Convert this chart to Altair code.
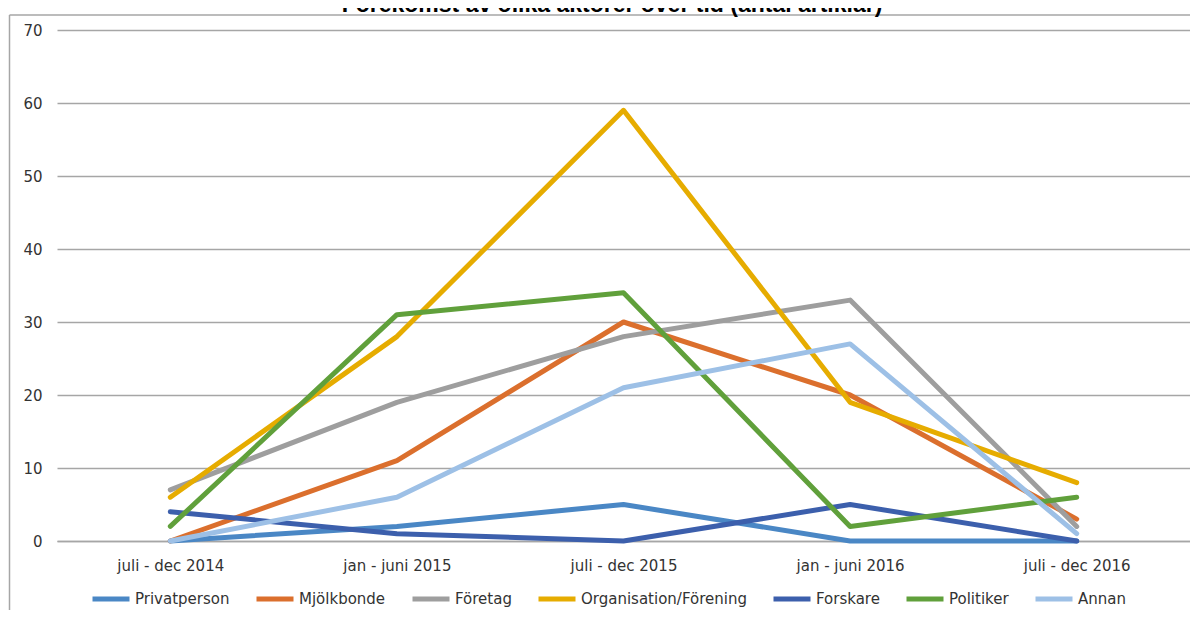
import altair as alt
import pandas as pd

periods = ["juli - dec 2014", "jan - juni 2015", "juli - dec 2015", "jan - juni 2016", "juli - dec 2016"]
series = ["Privatperson", "Mjölkbonde", "Företag", "Organisation/Förening", "Forskare", "Politiker", "Annan"]
privatperson = [0, 2, 5, 0, 0]
mjolkbonde = [0, 11, 30, 20, 3]
foretag = [7, 19, 28, 33, 2]
organisation = [6, 28, 59, 19, 8]
forskare = [4, 1, 0, 5, 0]
politiker = [2, 31, 34, 2, 6]
annan = [0, 6, 21, 27, 1]
colors = ["#4A87C5", "#DB6F2D", "#9E9E9E", "#E6AC00", "#3C5FAC", "#60A03B", "#9DC0E6"]
title_text = "Förekomst av olika aktörer över tid (antal artiklar)"

values = [privatperson, mjolkbonde, foretag, organisation, forskare, politiker, annan]
rows = []
for s, vals in zip(series, values):
    for p, v in zip(periods, vals):
        rows.append({"Period": p, "Serie": s, "Antal": v, "order": series.index(s)})
df = pd.DataFrame(rows)

W, H = 1133, 511
FONT = "DejaVu Sans"

lines = alt.Chart(df).mark_line(strokeWidth=5, strokeCap="round", strokeJoin="round").encode(
    x=alt.X("Period:N", sort=periods, scale=alt.Scale(type="point", padding=0.5),
            axis=alt.Axis(title=None, labelAngle=0, ticks=False, tickSize=0, grid=False,
                          domainColor="#A6A6A6", domainWidth=1.5, labelPadding=17,
                          labelFont=FONT, labelFontSize=15, labelColor="#333333")),
    y=alt.Y("Antal:Q", scale=alt.Scale(domain=[0, 70], nice=False),
            axis=alt.Axis(title=None, values=list(range(0, 71, 10)), ticks=False, tickSize=0,
                          domain=False, gridColor="#A6A6A6", gridWidth=1.5, labelPadding=15,
                          labelFont=FONT, labelFontSize=15, labelColor="#333333")),
    color=alt.Color("Serie:N", sort=series, scale=alt.Scale(domain=series, range=colors),
                    legend=alt.Legend(title=None, orient="none", direction="horizontal",
                                      legendX=33, legendY=548, symbolType="stroke",
                                      symbolStrokeWidth=5, symbolSize=1369, labelOffset=3,
                                      columnPadding=16, padding=0, labelLimit=400,
                                      labelFont=FONT, labelFontSize=15, labelColor="#333333")),
    order=alt.Order("order:Q"),
)

one = pd.DataFrame({"a": [0]})
frame_left = alt.Chart(one).mark_rule(color="#A6A6A6", strokeWidth=1.5).encode(
    x=alt.value(-47.5), y=alt.value(-15), y2=alt.value(700))
frame_top = alt.Chart(one).mark_rule(color="#A6A6A6", strokeWidth=1.5).encode(
    x=alt.value(-47.5), x2=alt.value(1300), y=alt.value(-15))
title = alt.Chart(pd.DataFrame({"t": [title_text]})).mark_text(
    font="Liberation Sans", fontSize=23, fontWeight="bold", color="#000000",
    align="center", baseline="alphabetic").encode(
    text="t:N", x=alt.value(555), y=alt.value(-18))

chart = alt.layer(frame_left, frame_top, title, lines).properties(
    width=W, height=H,
    autosize=alt.AutoSizeParams(type="none"),
    padding={"left": 49, "top": 22, "right": 0, "bottom": 69},
).configure_view(stroke=None)

chart.save("out.html", embed_options={"renderer": "svg", "actions": False})
